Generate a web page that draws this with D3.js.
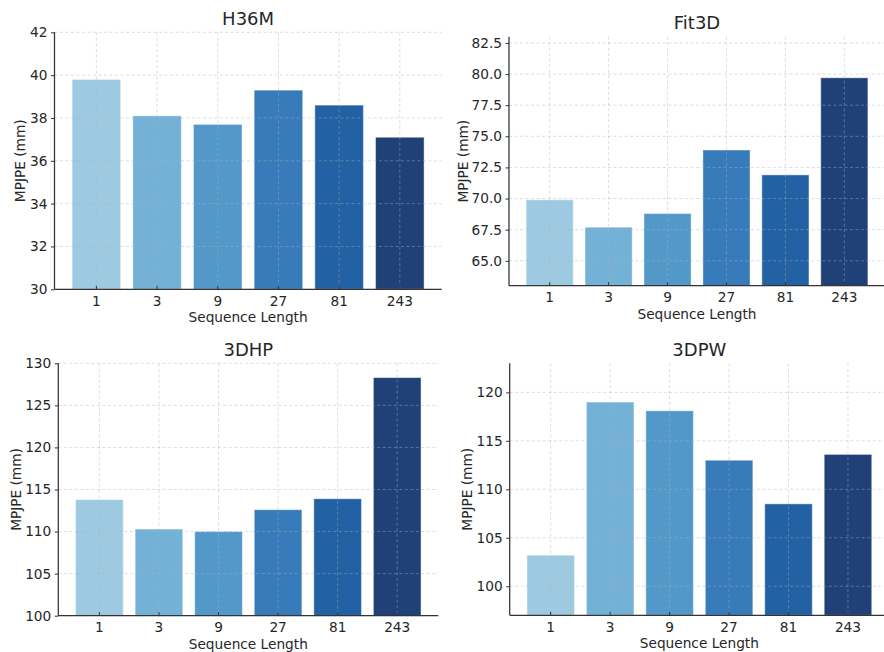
<!DOCTYPE html>
<html>
<head>
<meta charset="utf-8">
<script src="https://cdn.jsdelivr.net/npm/d3@7"></script>
<style>
  html, body { margin: 0; padding: 0; background: #fff; }
  svg { display: block; font-family: "DejaVu Sans", sans-serif; }
</style>
</head>
<body>
<svg id="chart" width="884" height="652"></svg>
<script>
// ---- data ----
const categories = ["1", "3", "9", "27", "81", "243"];
const h36mValues = [39.8, 38.1, 37.7, 39.3, 38.6, 37.1];
const fit3dValues = [69.9, 67.7, 68.8, 73.9, 71.9, 79.7];
const hp3dValues = [113.8, 110.3, 110.0, 112.6, 113.9, 128.3];
const pw3dValues = [103.2, 119.0, 118.1, 113.0, 108.5, 113.6];
const titles = ["H36M", "Fit3D", "3DHP", "3DPW"];
const h36mTicks = [30, 32, 34, 36, 38, 40, 42];
const fit3dTicks = [65, 67.5, 70, 72.5, 75, 77.5, 80, 82.5];
const hp3dTicks = [100, 105, 110, 115, 120, 125, 130];
const pw3dTicks = [100, 105, 110, 115, 120];
const barColors = ["#9ecae1", "#74b1d6", "#5299c9", "#377bba", "#2261a3", "#204177"];

// ---- layout ----
const panels = [
  { title: titles[0], values: h36mValues, ticks: h36mTicks, fmt: d3.format("d"),  domain: [30, 42],
    left: 54.5, right: 441.7, top: 32.3, bottom: 289.3, ylabX: 20 },
  { title: titles[1], values: fit3dValues, ticks: fit3dTicks, fmt: d3.format(".1f"), domain: [63.0, 83.0],
    left: 509, right: 885, top: 36.7, bottom: 285.7, ylabX: 463 },
  { title: titles[2], values: hp3dValues, ticks: hp3dTicks, fmt: d3.format("d"), domain: [100, 130],
    left: 58.3, right: 438.3, top: 363.3, bottom: 615.7, ylabX: 15.5 },
  { title: titles[3], values: pw3dValues, ticks: pw3dTicks, fmt: d3.format("d"), domain: [97.0, 123.0],
    left: 509.7, right: 889, top: 363.3, bottom: 615.3, ylabX: 467 }
];

const svg = d3.select("#chart");
const textColor = "#262626";

panels.forEach(p => {
  const g = svg.append("g");
  const x = d3.scaleBand().domain(categories).range([p.left, p.right])
    .paddingInner(0.2).paddingOuter(0.29);
  const y = d3.scaleLinear().domain(p.domain).range([p.bottom, p.top]);

  // bars
  g.selectAll("rect.bar").data(p.values).join("rect")
    .attr("class", "bar")
    .attr("x", (d, i) => x(categories[i]))
    .attr("width", x.bandwidth())
    .attr("y", d => y(d))
    .attr("height", d => p.bottom - y(d))
    .attr("fill", (d, i) => barColors[i])
    .attr("stroke", "rgba(255,255,255,0.45)")
    .attr("stroke-width", 1);

  // grid (on top of bars)
  const grid = g.append("g").attr("stroke", "#b0b0b0").attr("stroke-opacity", 0.55)
    .attr("stroke-width", 0.8).attr("stroke-dasharray", "3,2.5");
  p.ticks.forEach(t => {
    grid.append("line").attr("x1", p.left).attr("x2", p.right)
      .attr("y1", y(t)).attr("y2", y(t));
  });
  categories.forEach(c => {
    const cx = x(c) + x.bandwidth() / 2;
    grid.append("line").attr("x1", cx).attr("x2", cx)
      .attr("y1", p.top).attr("y2", p.bottom);
  });

  // y axis
  const yAxis = d3.axisLeft(y).tickValues(p.ticks).tickFormat(p.fmt).tickSize(3.5).tickPadding(3.5);
  const ya = g.append("g").attr("transform", `translate(${p.left},0)`).call(yAxis);
  ya.select(".domain").attr("d", `M0,${p.top}V${p.bottom}`).attr("stroke", "#333").attr("stroke-width", 1.25);
  ya.selectAll(".tick line").attr("stroke", "#333").attr("stroke-width", 1);
  ya.selectAll(".tick text").attr("fill", textColor).style("font-size", "13.7px")
    .style("font-family", "'DejaVu Sans', sans-serif");

  // x axis (ticks pointing inward)
  const xAxis = d3.axisBottom(x).tickSize(-3.5).tickPadding(7);
  const xa = g.append("g").attr("transform", `translate(0,${p.bottom})`).call(xAxis);
  xa.select(".domain").attr("d", `M${p.left},0H${p.right}`).attr("stroke", "#333").attr("stroke-width", 1.25);
  xa.selectAll(".tick line").attr("stroke", "#333").attr("stroke-width", 1);
  xa.selectAll(".tick text").attr("fill", textColor).style("font-size", "13.7px")
    .style("font-family", "'DejaVu Sans', sans-serif");

  // title
  const cx = (p.left + p.right) / 2;
  g.append("text").attr("x", cx).attr("y", p.top - 7.5)
    .attr("text-anchor", "middle").attr("fill", textColor)
    .style("font-size", "18px").text(p.title);

  // x label
  g.append("text").attr("x", cx).attr("y", p.bottom + 33)
    .attr("text-anchor", "middle").attr("fill", textColor)
    .style("font-size", "13.7px").text("Sequence Length");

  // y label
  g.append("text")
    .attr("transform", `translate(${p.ylabX + 5},${(p.top + p.bottom) / 2}) rotate(-90)`)
    .attr("text-anchor", "middle").attr("fill", textColor)
    .style("font-size", "13.7px").text("MPJPE (mm)");
});
</script>
</body>
</html>
